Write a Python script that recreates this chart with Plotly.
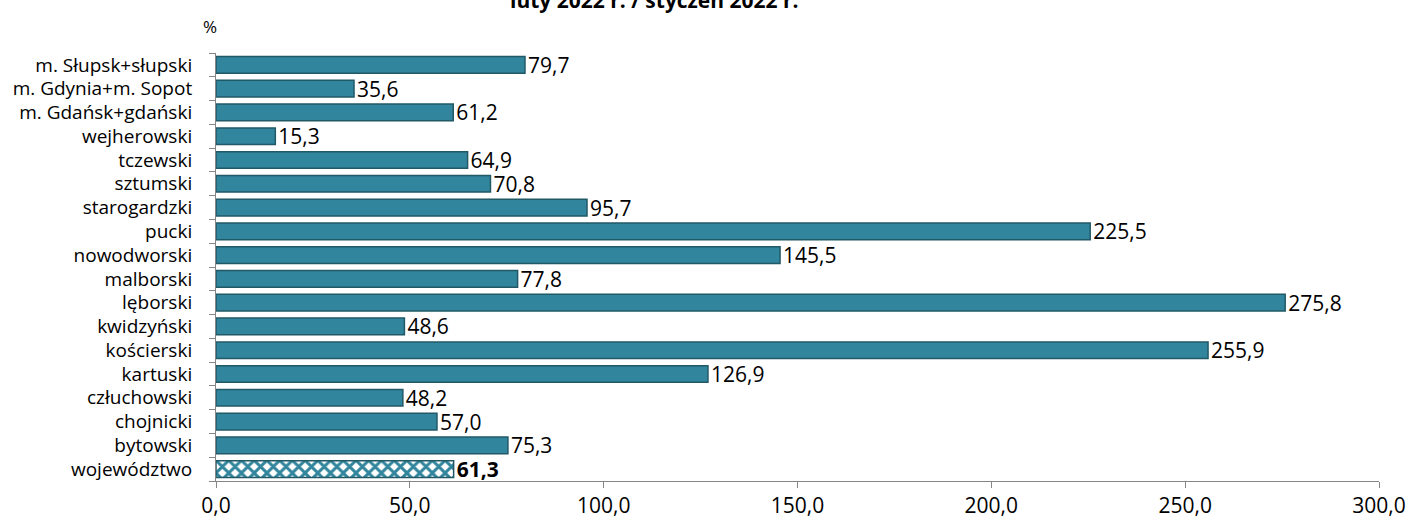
import plotly.graph_objects as go

# categories listed bottom -> top
powiaty = [
    "województwo", "bytowski", "chojnicki", "człuchowski", "kartuski",
    "kościerski", "kwidzyński", "lęborski", "malborski", "nowodworski",
    "pucki", "starogardzki", "sztumski", "tczewski", "wejherowski",
    "m. Gdańsk+gdański", "m. Gdynia+m. Sopot", "m. Słupsk+słupski",
]
wskaznik = [
    61.3, 75.3, 57.0, 48.2, 126.9,
    255.9, 48.6, 275.8, 77.8, 145.5,
    225.5, 95.7, 70.8, 64.9, 15.3,
    61.2, 35.6, 79.7,
]
x_ticks = [0, 50, 100, 150, 200, 250, 300]

TEAL = "#31859C"
EDGE = "#215967"
FONT = "Open Sans, sans-serif"


def fmt(v):
    return f"{v:.1f}".replace(".", ",")


labels = [f"<b>{fmt(v)}</b>" if p == "województwo" else fmt(v)
          for p, v in zip(powiaty, wskaznik)]
shapes = ["x" if p == "województwo" else "" for p in powiaty]

fig = go.Figure(
    go.Bar(
        x=wskaznik,
        y=powiaty,
        orientation="h",
        text=labels,
        textposition="outside",
        constraintext="none",
        cliponaxis=False,
        textfont=dict(family=FONT, size=21, color="black"),
        marker=dict(
            color=TEAL,
            line=dict(color=EDGE, width=1.5),
            pattern=dict(shape=shapes, fgcolor=TEAL, bgcolor="white",
                         size=9, solidity=0.55, fgopacity=1, fillmode="replace"),
        ),
    )
)

fig.update_layout(
    width=1409,
    height=522,
    margin=dict(l=216, r=30, t=53, b=41, autoexpand=False),
    paper_bgcolor="white",
    plot_bgcolor="white",
    font=dict(family=FONT, size=19, color="black"),
    bargap=0.3,
    showlegend=False,
    separators=", ",
    annotations=[
        dict(text="<b>luty 2022 r. / styczeń 2022 r.</b>", xref="paper", yref="paper",
             x=0.377, y=1.125, xanchor="center", yanchor="middle",
             showarrow=False, font=dict(size=21)),
        dict(text="%", xref="paper", yref="paper", x=-0.005, y=1.063,
             xanchor="center", yanchor="middle", showarrow=False,
             font=dict(size=17)),
    ],
)
fig.update_xaxes(
    range=[0, 300],
    tickvals=x_ticks,
    tickformat=".1f",
    automargin=False,
    showgrid=False,
    zeroline=False,
    showline=True,
    linecolor="#868686",
    ticks="outside",
    tickcolor="#868686",
    ticklen=6,
    tickfont=dict(size=21),
)
fig.update_yaxes(
    categoryorder="array",
    categoryarray=powiaty,
    automargin=False,
    showgrid=False,
    showline=True,
    linecolor="#868686",
    ticks="outside",
    tickson="boundaries",
    tickcolor="#868686",
    ticklen=6,
    ticklabelstandoff=19,
    tickfont=dict(size=19),
)

# page body has an 8px default margin; drop it so the figure sits at 0,0
fig.write_html(
    "out.html",
    config={"displayModeBar": False},
    post_script="document.body.style.margin='0';",
)
